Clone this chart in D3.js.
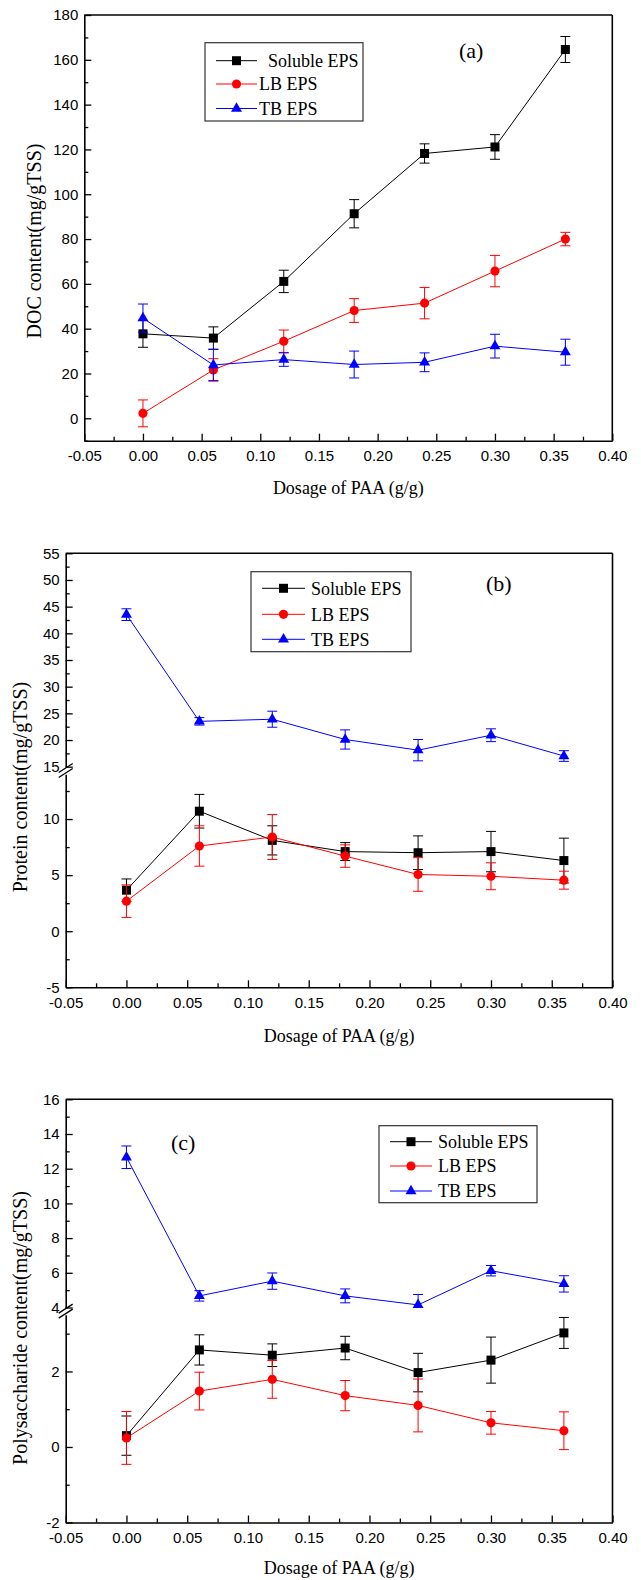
<!DOCTYPE html>
<html>
<head>
<meta charset="utf-8">
<script src="https://cdn.jsdelivr.net/npm/d3@7"></script>
<style>
  body { margin: 0; background: #fff; }
  svg { display: block; }
</style>
</head>
<body>
<script>
// Page size
const W = 641;
const H = 1580;

// Shared x values and series
const dosage = [0, 0.06, 0.12, 0.18, 0.24, 0.30, 0.36];
const seriesNames = ["Soluble EPS", "LB EPS", "TB EPS"];
const seriesColors = ["#000000", "#ff0000", "#0000ff"];
const xTicks = [-0.05, 0, 0.05, 0.10, 0.15, 0.20, 0.25, 0.30, 0.35, 0.40];
const xMinor = [-0.025, 0.025, 0.075, 0.125, 0.175, 0.225, 0.275, 0.325, 0.375];

// (a) DOC content
const docSoluble = [37.7, 35.8, 61.1, 91.3, 118.2, 121.1, 164.6];
const docSolubleErr = [6, 5, 5, 6.3, 4.3, 5.5, 5.8];
const docLB = [2.2, 21.6, 34.4, 48.1, 51.4, 65.7, 80];
const docLBErr = [6, 5, 5, 5.3, 7, 7, 3];
const docTB = [44.7, 23.8, 26.2, 24, 25, 32.2, 29.5];
const docTBErr = [6.3, 7, 3, 6, 4.2, 5.3, 5.8];
const docTicks = [0, 20, 40, 60, 80, 100, 120, 140, 160, 180];
const docMinor = [-10, 10, 30, 50, 70, 90, 110, 130, 150, 170];

// (b) Protein content (broken axis)
const protSoluble = [3.66, 10.7, 8.1, 7.1, 7.0, 7.1, 6.3];
const protSolubleErr = [1, 1.5, 1.3, 0.8, 1.5, 1.8, 2];
const protLB = [2.68, 7.6, 8.4, 6.7, 5.06, 4.9, 4.55];
const protLBErr = [1.45, 1.8, 2, 1, 1.5, 1.2, 0.8];
const protTB = [43.5, 23.5, 23.9, 20.1, 18.1, 20.9, 17];
const protTBErr = [1.1, 0.7, 1.5, 1.8, 2, 1.2, 1];
const protTicksLow = [-5, 0, 5, 10];
const protMinorLow = [-2.5, 2.5, 7.5, 12.5];
const protTicksHigh = [15, 20, 25, 30, 35, 40, 45, 50, 55];
const protMinorHigh = [17.5, 22.5, 27.5, 32.5, 37.5, 42.5, 47.5, 52.5];

// (c) Polysaccharide content (broken axis)
const polySoluble = [0.30, 2.57, 2.43, 2.62, 1.97, 2.3, 3.02];
const polySolubleErr = [0.52, 0.4, 0.3, 0.31, 0.51, 0.61, 0.41];
const polyLB = [0.24, 1.48, 1.79, 1.36, 1.1, 0.64, 0.43];
const polyLBErr = [0.7, 0.5, 0.5, 0.4, 0.7, 0.3, 0.5];
const polyTB = [12.66, 4.67, 5.52, 4.67, 4.15, 6.12, 5.36];
const polyTBErr = [0.65, 0.3, 0.47, 0.4, 0.6, 0.3, 0.47];
const polyTicksLow = [-2, 0, 2];
const polyMinorLow = [-1, 1, 3];
const polyTicksHigh = [4, 6, 8, 10, 12, 14, 16];
const polyMinorHigh = [5, 7, 9, 11, 13, 15];

const SERIF = "'Liberation Serif', 'Times New Roman', serif";
const SANS = "'Liberation Sans', Arial, sans-serif";

// Panel layouts
const panels = [
    {
        tag: "(a)", tagX: 459, tagY: 58,
        yTitle: "DOC content(mg/gTSS)", yTitleX: 34, yTitleY: 241,
        xTitleY: 494,
        left: 84.3, right: 612.3, top: 15, bottom: 440.7,
        segments: [
            { domain: [-10, 180], range: [440.7, 15], ticks: docTicks, minor: docMinor }
        ],
        seriesSeg: [0, 0, 0],
        values: [docSoluble, docLB, docTB],
        errors: [docSolubleErr, docLBErr, docTBErr],
        legend: { x: 205, y: 42.7, w: 158, h: 78.3, rows: [60.7, 84, 108.5],
                  line: [216, 257], mark: 236.5, text: [268, 259, 259] }
    },
    {
        tag: "(b)", tagX: 486, tagY: 591,
        yTitle: "Protein content(mg/gTSS)", yTitleX: 20, yTitleY: 787,
        xTitleY: 1042,
        left: 65.7, right: 612.5, top: 553.3, bottom: 987.3,
        segments: [
            { domain: [-5, 14], range: [987.3, 774.2], ticks: protTicksLow, minor: protMinorLow },
            { domain: [15, 55], range: [766.7, 553.3], ticks: protTicksHigh, minor: protMinorHigh }
        ],
        seriesSeg: [0, 0, 1],
        values: [protSoluble, protLB, protTB],
        errors: [protSolubleErr, protLBErr, protTBErr],
        legend: { x: 251, y: 571.7, w: 160, h: 80, rows: [588.3, 614.3, 639.3],
                  line: [262, 305], mark: 283.5, text: [311, 311, 311] }
    },
    {
        tag: "(c)", tagX: 171, tagY: 1150,
        yTitle: "Polysaccharide content(mg/gTSS)", yTitleX: 20, yTitleY: 1328,
        xTitleY: 1574,
        left: 65.7, right: 612.5, top: 1099.3, bottom: 1522.5,
        segments: [
            { domain: [-2, 3.5], range: [1522.5, 1314.8], ticks: polyTicksLow, minor: polyMinorLow },
            { domain: [4, 16], range: [1307.5, 1099.3], ticks: polyTicksHigh, minor: polyMinorHigh }
        ],
        seriesSeg: [0, 0, 1],
        values: [polySoluble, polyLB, polyTB],
        errors: [polySolubleErr, polyLBErr, polyTBErr],
        legend: { x: 379, y: 1125.7, w: 158, h: 77, rows: [1141.7, 1166, 1191],
                  line: [390, 432], mark: 411, text: [438, 438, 438] }
    }
];

const svg = d3.select("body").append("svg")
    .attr("width", W)
    .attr("height", H);

// Marker shapes
const markers = [
    d3.symbol().type(d3.symbolSquare).size(81),
    d3.symbol().type(d3.symbolCircle).size(66),
    d3.symbol().type(d3.symbolTriangle).size(52)
];

panels.forEach(drawPanel);

function drawPanel(p) {
    const g = svg.append("g");

    const x = d3.scaleLinear()
        .domain([-0.05, 0.40])
        .range([p.left, p.right]);

    const ys = p.segments.map(s => d3.scaleLinear().domain(s.domain).range(s.range));

    // X axis (major + minor, ticks pointing inward)
    const xAxis = g.append("g")
        .attr("transform", `translate(0,${p.bottom})`)
        .call(d3.axisBottom(x)
            .tickValues(xTicks)
            .tickFormat(d => d.toFixed(2))
            .tickSizeInner(-7)
            .tickSizeOuter(0)
            .tickPadding(10));
    styleAxis(xAxis);

    g.append("g")
        .attr("transform", `translate(0,${p.bottom})`)
        .call(d3.axisBottom(x)
            .tickValues(xMinor)
            .tickFormat("")
            .tickSizeInner(-4)
            .tickSizeOuter(0))
        .call(a => a.select(".domain").remove())
        .selectAll("line").attr("stroke-width", 1.3);

    // Y axis, one piece per segment
    p.segments.forEach((s, i) => {
        const yAxis = g.append("g")
            .attr("transform", `translate(${p.left},0)`)
            .call(d3.axisLeft(ys[i])
                .tickValues(s.ticks)
                .tickFormat(String)
                .tickSizeInner(-7)
                .tickSizeOuter(0)
                .tickPadding(6));
        styleAxis(yAxis);

        g.append("g")
            .attr("transform", `translate(${p.left},0)`)
            .call(d3.axisLeft(ys[i])
                .tickValues(s.minor)
                .tickFormat("")
                .tickSizeInner(-4)
                .tickSizeOuter(0))
            .call(a => a.select(".domain").remove())
            .selectAll("line").attr("stroke-width", 1.3);
    });

    // Break marks
    if (p.segments.length > 1) {
        const mid = (p.segments[0].range[1] + p.segments[1].range[0]) / 2;
        [-2.5, 2.5].forEach(off => {
            g.append("line")
                .attr("x1", p.left - 7).attr("y1", mid + off + 4.5)
                .attr("x2", p.left + 7).attr("y2", mid + off - 4.5)
                .attr("stroke", "#000")
                .attr("stroke-width", 1.3);
        });
    }

    // Top and right frame
    g.append("line")
        .attr("x1", p.left).attr("x2", p.right)
        .attr("y1", p.top).attr("y2", p.top)
        .attr("stroke", "#000").attr("stroke-width", 1.6);
    g.append("line")
        .attr("x1", p.right).attr("x2", p.right)
        .attr("y1", p.top).attr("y2", p.bottom)
        .attr("stroke", "#000").attr("stroke-width", 1.6);

    // Series: error bars, lines, markers
    p.values.forEach((vals, k) => {
        const seg = p.segments[p.seriesSeg[k]];
        const y = ys[p.seriesSeg[k]];
        const clamp = v => Math.max(seg.domain[0], Math.min(seg.domain[1], v));
        const col = seriesColors[k];
        const errs = p.errors[k];

        const eb = g.append("g").attr("stroke", col).attr("stroke-width", 1);
        vals.forEach((v, i) => {
            const cx = x(dosage[i]);
            const y1 = y(clamp(v - errs[i]));
            const y2 = y(clamp(v + errs[i]));
            eb.append("line").attr("x1", cx).attr("x2", cx).attr("y1", y1).attr("y2", y2);
            [y1, y2].forEach(yy => {
                if (yy === y(seg.domain[0])) return;
                eb.append("line")
                    .attr("x1", cx - 5).attr("x2", cx + 5)
                    .attr("y1", yy).attr("y2", yy);
            });
        });

        const line = d3.line()
            .x((v, i) => x(dosage[i]))
            .y(v => y(v));

        g.append("path")
            .datum(vals)
            .attr("fill", "none")
            .attr("stroke", col)
            .attr("stroke-width", 1)
            .attr("d", line);

        g.selectAll(null)
            .data(vals)
            .enter()
            .append("path")
            .attr("d", markers[k])
            .attr("transform", (v, i) => `translate(${x(dosage[i])},${y(v)})`)
            .attr("fill", col);
    });

    // Legend
    const L = p.legend;
    g.append("rect")
        .attr("x", L.x).attr("y", L.y)
        .attr("width", L.w).attr("height", L.h)
        .attr("fill", "#fff")
        .attr("stroke", "#333")
        .attr("stroke-width", 1.2);
    seriesNames.forEach((name, k) => {
        const ry = L.rows[k];
        g.append("line")
            .attr("x1", L.line[0]).attr("x2", L.line[1])
            .attr("y1", ry).attr("y2", ry)
            .attr("stroke", seriesColors[k]);
        g.append("path")
            .attr("d", markers[k])
            .attr("transform", `translate(${L.mark},${ry})`)
            .attr("fill", seriesColors[k]);
        g.append("text")
            .attr("x", L.text[k]).attr("y", ry)
            .attr("dy", "0.35em")
            .style("font-family", SERIF)
            .style("font-size", "18px")
            .text(name);
    });

    // Panel tag
    g.append("text")
        .attr("x", p.tagX).attr("y", p.tagY)
        .style("font-family", SERIF)
        .style("font-size", "22px")
        .text(p.tag);

    // Axis titles
    g.append("text")
        .attr("x", (p.left + p.right) / 2)
        .attr("y", p.xTitleY)
        .attr("text-anchor", "middle")
        .style("font-family", SERIF)
        .style("font-size", "18px")
        .text("Dosage of PAA (g/g)");

    g.append("text")
        .attr("transform", `translate(${p.yTitleX},${p.yTitleY}) rotate(-90)`)
        .attr("text-anchor", "middle")
        .attr("dy", "0.35em")
        .style("font-family", SERIF)
        .style("font-size", "20px")
        .text(p.yTitle);
}

function styleAxis(sel) {
    sel.attr("font-family", SANS).attr("font-size", 15);
    sel.select(".domain").attr("stroke-width", 1.6);
    sel.selectAll(".tick line").attr("stroke-width", 1.3);
    sel.selectAll(".tick text").attr("fill", "#000");
}
</script>
</body>
</html>
